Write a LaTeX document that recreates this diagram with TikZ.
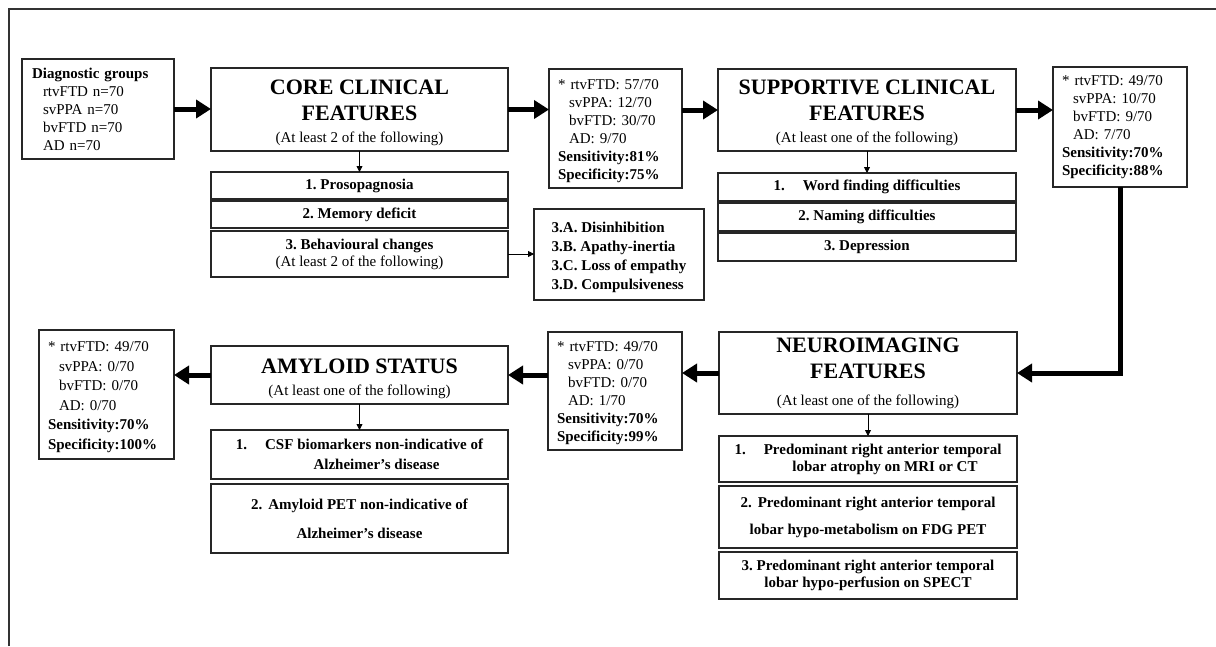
\documentclass[tikz,border=0pt]{standalone}
\usepackage{fontspec}
\setmainfont{Liberation Serif}
\usetikzlibrary{arrows.meta,positioning}

\newcommand{\headfont}{\fontsize{22}{26}\selectfont\bfseries}
\newcommand{\subfont}{\fontsize{15}{18}\selectfont\mdseries}
\newcommand{\lift}[1]{\rule{0pt}{#1}}

\begin{document}
\frenchspacing
\begin{tikzpicture}[
  x=1pt, y=-1pt,
  box/.style={draw=black!85, line width=1.1pt, outer sep=0pt, inner sep=0pt,
              anchor=north west, align=center},
  panel/.style={box, font=\headfont},
  item/.style={box, font=\fontsize{15}{18}\selectfont\bfseries},
  stats/.style={box, font=\fontsize{15}{18}\selectfont, align=left, inner xsep=9pt},
  flow/.style={-{Triangle[length=15pt,width=18pt]}, line width=5pt},
  link/.style={-{Triangle[length=6pt,width=6pt]}, line width=0.8pt}]
  \useasboundingbox (0,0) rectangle (1216,646);
  \draw[line width=1.2pt, black!80] (9,646) |- (1216,9);

  % top row
  \node[stats, inner xsep=10pt, text width=132pt, minimum height=100pt] (groups) at (22,59)
    {\textbf{Diagnostic groups}\\ \hspace*{11pt}rtvFTD n=70\\ \hspace*{11pt}svPPA n=70\\
     \hspace*{11pt}bvFTD n=70\\ \hspace*{11pt}AD n=70};
  \node[panel, minimum width=297pt, minimum height=83pt] (core) at (211,68)
    {\lift{21pt}CORE CLINICAL\\FEATURES\\[-4pt]{\subfont (At least 2 of the following)}};
  \node[item, minimum width=297pt, minimum height=27pt] (proso) at (211,172) {1. Prosopagnosia};
  \node[item, minimum width=297pt, minimum height=27pt, below=2pt of proso] (memory) {2. Memory deficit};
  \node[item, minimum width=297pt, minimum height=46pt, below=3pt of memory] (behav)
    {3. Behavioural changes\\[-1pt]{\subfont (At least 2 of the following)}};
  \node[item, align=left, minimum width=170pt, minimum height=91pt] (subtypes) at (534,209)
    {\lift{17pt}3.A. Disinhibition\\[1pt] 3.B. Apathy-inertia\\[1pt] 3.C. Loss of empathy\\[1pt] 3.D. Compulsiveness};
  \node[stats, text width=115pt, minimum height=119pt] (stats1) at (549,69)
    {\lift{15pt}* rtvFTD: 57/70\\ \hspace*{11pt}svPPA: 12/70\\ \hspace*{11pt}bvFTD: 30/70\\ \hspace*{11pt}AD: 9/70\\
     \textbf{Sensitivity:81\%}\\ \textbf{Specificity:75\%}};
  \node[panel, minimum width=298pt, minimum height=82pt] (sup) at (718,69)
    {\lift{21pt}SUPPORTIVE CLINICAL\\FEATURES\\[-4pt]{\subfont (At least one of the following)}};
  \node[item, minimum width=298pt, minimum height=28pt] (word) at (718,173)
    {1.\hspace{18pt}Word finding difficulties};
  \node[item, minimum width=298pt, minimum height=28pt, below=2pt of word] (naming) {2. Naming difficulties};
  \node[item, minimum width=298pt, minimum height=28pt, below=2pt of naming] (depress) {3. Depression};
  \node[stats, text width=116pt, minimum height=120pt] (stats2) at (1053,67)
    {* rtvFTD: 49/70\\ \hspace*{11pt}svPPA: 10/70\\ \hspace*{11pt}bvFTD: 9/70\\ \hspace*{11pt}AD: 7/70\\
     \textbf{Sensitivity:70\%}\\ \textbf{Specificity:88\%}};

  % bottom row
  \node[panel, minimum width=298pt, minimum height=82pt] (neuro) at (719,332)
    {NEUROIMAGING\\FEATURES\\[1pt]{\subfont (At least one of the following)}};
  \node[item, minimum width=298pt, minimum height=46pt] (mri) at (719,436)
    {1.\hspace{18pt}Predominant right anterior temporal\\[-1pt] \hspace*{34pt}lobar atrophy on MRI or CT};
  \node[item, minimum width=298pt, minimum height=62pt, below=4pt of mri] (fdg)
    {2.\hspace{6pt}Predominant right anterior temporal\\[9pt] lobar hypo-metabolism on FDG PET};
  \node[item, minimum width=298pt, minimum height=47pt, below=4pt of fdg] (spect)
    {3. Predominant right anterior temporal\\[-1pt] lobar hypo-perfusion on SPECT};
  \node[stats, text width=116pt, minimum height=118pt] (stats3) at (548,332)
    {\lift{15pt}* rtvFTD: 49/70\\ \hspace*{11pt}svPPA: 0/70\\ \hspace*{11pt}bvFTD: 0/70\\ \hspace*{11pt}AD: 1/70\\
     \textbf{Sensitivity:70\%}\\ \textbf{Specificity:99\%}};
  \node[panel, minimum width=297pt, minimum height=58pt] (amy) at (211,346)
    {\lift{23pt}AMYLOID STATUS\\[-4pt]{\subfont (At least one of the following)}};
  \node[item, minimum width=297pt, minimum height=49pt] (csf) at (211,430)
    {1.\hspace{18pt}CSF biomarkers non-indicative of\\[2pt] \hspace*{34pt}Alzheimer’s disease};
  \node[item, minimum width=297pt, minimum height=69pt, below=5pt of csf] (pet)
    {2.\hspace{6pt}Amyloid PET non-indicative of\\[11pt] Alzheimer’s disease};
  \node[stats, font=\fontsize{15}{19.5}\selectfont, text width=117pt, minimum height=129pt] (stats4) at (39,330)
    {\lift{15pt}* rtvFTD: 49/70\\ \hspace*{11pt}svPPA: 0/70\\ \hspace*{11pt}bvFTD: 0/70\\ \hspace*{11pt}AD: 0/70\\
     \textbf{Sensitivity:70\%}\\ \textbf{Specificity:100\%}};

  % main flow
  \draw[flow] (groups.east) -- (groups.east -| core.west);
  \draw[flow] (core.east) -- (core.east -| stats1.west);
  \draw[flow] (sup.west -| stats1.east) -- (sup.west);
  \draw[flow] (sup.east) -- (sup.east -| stats2.west);
  \draw[flow] (stats2.south) |- (neuro.east);
  \draw[flow] (neuro.west) -- (neuro.west -| stats3.east);
  \draw[flow] (amy.east -| stats3.west) -- (amy.east);
  \draw[flow] (amy.west) -- (amy.west -| stats4.east);

  % criteria lists
  \draw[link] (core.south) -- (proso.north);
  \draw[link] (sup.south) -- (word.north);
  \draw[link] (neuro.south) -- (mri.north);
  \draw[link] (amy.south) -- (csf.north);
  \draw[link] (behav.east) -- (behav.east -| subtypes.west);
\end{tikzpicture}
\end{document}
